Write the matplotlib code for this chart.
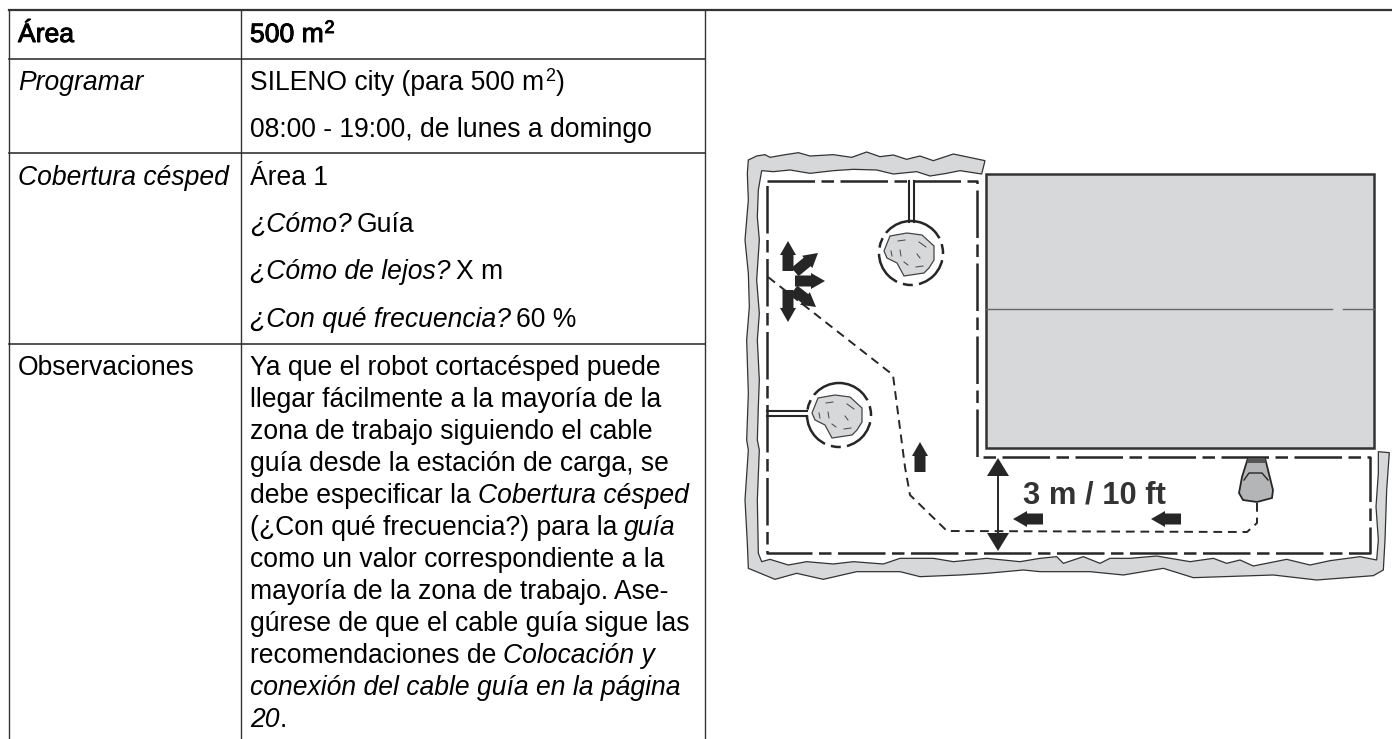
import matplotlib
matplotlib.use('Agg')
import matplotlib.pyplot as plt
from matplotlib.patches import Polygon, Circle, Rectangle
import matplotlib.patheffects as pe

plt.rcParams['font.family'] = ['Liberation Sans', 'DejaVu Sans']

# Lineas de la tabla (pixeles de la imagen)
col_x = [9, 241, 705]
row_y = [58.5, 153, 344]

# Filas de la tabla: (x, linea base, [(texto, estilo), ...])
table_rows = [
    (18, 42, [('Área', 'bold')]),
    (250, 42, [('500 m', 'bold'), ('2', 'boldsup')]),
    (18, 90, [('Programar', 'italic')]),
    (250, 90, [('SILENO city (para 500 m', 'normal'), ('2', 'sup'), (')', 'normal')]),
    (250, 137, [('08:00 - 19:00, de lunes a domingo', 'normal')]),
    (18, 185, [('Cobertura césped', 'italic')]),
    (250, 185, [('Área 1', 'normal')]),
    (250, 232, [('¿Cómo?', 'italic'), ('Guía', 'normal')]),
    (250, 279, [('¿Cómo de lejos?', 'italic'), ('X m', 'normal')]),
    (250, 327, [('¿Con qué frecuencia?', 'italic'), ('60 %', 'normal')]),
    (18, 375, [('Observaciones', 'normal')]),
    (250, 375, [('Ya que el robot cortacésped puede', 'normal')]),
    (250, 407, [('llegar fácilmente a la mayoría de la', 'normal')]),
    (250, 439, [('zona de trabajo siguiendo el cable', 'normal')]),
    (250, 471, [('guía desde la estación de carga, se', 'normal')]),
    (250, 503, [('debe especificar la', 'normal'), ('Cobertura césped', 'italic')]),
    (250, 535, [('(¿Con qué frecuencia?) para la', 'normal'), ('guía', 'italic')]),
    (250, 567, [('como un valor correspondiente a la', 'normal')]),
    (250, 599, [('mayoría de la zona de trabajo. Ase-', 'normal')]),
    (250, 631, [('gúrese de que el cable guía sigue las', 'normal')]),
    (250, 663, [('recomendaciones de', 'normal'), ('Colocación y', 'italic')]),
    (250, 695, [('conexión del cable guía en la página', 'italic')]),
    (250, 727, [('20', 'italic'), ('.', 'normal')]),
]

# Seto, en coordenadas de los recortes (zoom 1, 2 y 3)
hedge_top = [(85, 60), (110, 48), (135, 44), (150, 52), (190, 45), (235, 38), (270, 48), (340, 44),
             (395, 52), (440, 36), (480, 50), (520, 45), (560, 58), (600, 48), (640, 62), (700, 42),
             (795, 62), (785, 102), (720, 92), (680, 100), (630, 108), (590, 95), (520, 102), (470, 90),
             (400, 88), (340, 92), (270, 100), (210, 90), (160, 95), (125, 92), (115, 150), (112, 230),
             (118, 300), (110, 420), (118, 520), (112, 600), (118, 720), (115, 800), (112, 900)]
hedge_bottom_left = [(118, 150), (112, 300), (115, 460), (125, 485), (150, 478), (205, 495), (260, 485),
                     (340, 492), (400, 485), (490, 492), (540, 475), (640, 475), (700, 485), (800, 475),
                     (900, 485)]
hedge_right = [(0, 1255), (50, 1250), (70, 1270), (130, 1250), (180, 1270), (210, 1255), (270, 1255),
               (350, 1248), (450, 1265), (520, 1255), (560, 1270), (600, 1260), (640, 1278), (740, 1258),
               (810, 1275), (870, 1262), (960, 1250), (1010, 1260), (1015, 1200), (1008, 1100), (1015, 1000),
               (1015, 935), (1048, 938), (1040, 1050), (1035, 1200), (1030, 1290), (1000, 1307), (830, 1320),
               (700, 1305), (460, 1313), (370, 1285), (250, 1305), (150, 1295), (0, 1295)]
hedge_outer_bottom = [(910, 510), (800, 520), (720, 525), (600, 530), (540, 515), (410, 515),
                      (310, 538), (230, 520), (165, 538), (85, 505), (82, 430), (75, 300), (85, 150)]
hedge_outer_left = [(80, 900), (85, 760), (80, 600), (88, 500), (85, 400), (75, 300), (85, 180), (82, 100)]

# Cable delimitador y cable guia
boundary_wire = [(767, 181), (977, 181), (977, 457), (1370, 457), (1370, 553), (767, 553), (767, 181)]
guide_wire = [(1257, 503), (1257, 523), (1247, 532), (947, 531), (910, 495), (905, 467), (893, 375), (768, 277)]

# Flechas: cola y punta
arrows = [((788, 271), (788, 241)), ((795, 272), (818, 253)), ((795, 281), (825, 281)),
          ((794, 290), (816, 307)), ((788, 290), (788, 322)), ((920, 472), (920, 442)),
          ((1043, 519), (1013, 519)), ((1181, 519), (1151, 519))]

islands = [(911, 253), (839, 415)]
rock = [(-27, -2), (-21, -17), (-4, -20), (11, -18), (23, -7), (23, 7), (18, 15), (13, 20), (-7, 23),
        (-14, 10), (-24, 5)]
rock_marks = [[(-13, -12), (-6, -13)], [(8, -11), (15, -6)], [(-20, -2), (-19, 3)], [(-11, -3), (-10, 3)],
              [(6, 1), (9, 5)], [(-7, 9), (-3, 12)], [(5, 14), (12, 13)]]
station = [(1248, 458), (1265, 458), (1273, 490), (1272, 498), (1257, 502), (1243, 500), (1239, 493), (1242, 477)]


def z1(pts):
    return [(720 + x / 3, 140 + y / 3) for x, y in pts]


def z2(pts):
    return [(720 + x / 3, 400 + y / 3) for x, y in pts]


def z3(pts):
    return [(1040 + x / 3, 140 + y / 3) for x, y in pts]


fig = plt.figure(figsize=(13.92, 7.39), dpi=100)
ax = fig.add_axes([0, 0, 1, 1])
ax.set_xlim(0, 1392)
ax.set_ylim(739, 0)
ax.axis('off')

dark = '#262626'
gray = '#d7d8da'

# Tabla
ax.plot([9, 1392], [10, 10], color='#333333', lw=1.6)
for x in col_x:
    ax.plot([x, x], [10, 739], color='#333333', lw=1.0)
for y in row_y:
    ax.plot([col_x[0], col_x[2]], [y, y], color='#333333', lw=1.2)

fig.canvas.draw()
renderer = fig.canvas.get_renderer()
fs = 19.1
for x0, y0, runs in table_rows:
    x = x0
    for i, (txt, style) in enumerate(runs):
        if style in ('sup', 'boldsup'):
            t = ax.text(x + 1, y0 - 9, txt, fontsize=fs * 0.68, va='baseline', ha='left', color='black')
        else:
            t = ax.text(x, y0, txt, fontsize=fs, va='baseline', ha='left', color='black',
                        style='italic' if style == 'italic' else 'normal')
        if style in ('bold', 'boldsup'):
            t.set_path_effects([pe.withStroke(linewidth=0.7, foreground='black')])
        x += t.get_window_extent(renderer).width
        if i + 1 < len(runs):
            next_txt, next_style = runs[i + 1]
            if next_style == 'italic':
                x += 7
            elif style == 'italic' and next_txt != '.':
                x += 5
            elif style == 'sup':
                x += 2

# Seto
hedge = z1(hedge_top) + z2(hedge_bottom_left) + z3(hedge_right) + z2(hedge_outer_bottom) + z1(hedge_outer_left)
ax.add_patch(Polygon(hedge, closed=True, fc=gray, ec='#333333', lw=0.9, zorder=2))

# Edificio
ax.add_patch(Rectangle((986, 174), 388, 274, fc=gray, ec='#333333', lw=1.8, zorder=2))
ax.plot([986, 1332], [309, 309], color='#666666', lw=1.0, zorder=3)
ax.plot([1343, 1374], [309, 309], color='#666666', lw=1.0, zorder=3)

# Cables
wx, wy = zip(*boundary_wire)
ax.plot(wx, wy, color=dark, lw=1.8, ls=(0, (19, 2.6, 5, 2.6)), zorder=4, solid_joinstyle='miter')
gx, gy = zip(*guide_wire)
ax.plot(gx, gy, color=dark, lw=1.4, ls=(0, (4.5, 3)), zorder=4)

# Islas con su cable doble
for (cx, cy) in islands:
    ax.add_patch(Circle((cx, cy), 32, fc='white', ec=dark, lw=1.8, ls=(0, (14, 2.5, 4, 2.5)), zorder=4))
    ax.add_patch(Polygon([(cx + dx, cy + dy) for dx, dy in rock], closed=True, fc=gray, ec='#444444', lw=0.9, zorder=5))
    for mark in rock_marks:
        ax.plot([cx + p[0] for p in mark], [cy + p[1] for p in mark], color='#444444', lw=0.7, zorder=6)
ax.plot([908.5, 908.5], [181, 222], color=dark, lw=1.5, zorder=4)
ax.plot([913.5, 913.5], [181, 222], color=dark, lw=1.5, zorder=4)
ax.plot([767, 807], [411, 411], color=dark, lw=1.5, zorder=4)
ax.plot([767, 807], [416, 416], color=dark, lw=1.5, zorder=4)

# Flechas negras
for (x1, y1), (x2, y2) in arrows:
    ax.arrow(x1, y1, x2 - x1, y2 - y1, width=11, head_width=16, head_length=14,
             length_includes_head=True, fc=dark, ec=dark, lw=0, zorder=6)

# Cota de 3 m
ax.plot([998, 998], [470, 535], color=dark, lw=1.4, zorder=6)
ax.add_patch(Polygon([(998, 458), (987, 476), (1009, 476)], fc=dark, ec=dark, lw=0, zorder=6))
ax.add_patch(Polygon([(998, 551), (987, 533), (1009, 533)], fc=dark, ec=dark, lw=0, zorder=6))
ax.text(1023, 495, '3 m / 10 ft', fontsize=22.2, fontweight='bold', color='#333333', va='center', ha='left', zorder=6)

# Estacion de carga
ax.add_patch(Polygon(station, closed=True, fc='#b4b5b7', ec=dark, lw=1.3, zorder=6))
ax.plot([1244, 1249, 1262, 1268], [480, 473, 473, 480], color=dark, lw=1.0, zorder=7)
ax.add_patch(Polygon([(1248, 458), (1265, 458), (1266, 463), (1247, 463)], fc='#555555', ec='#555555', lw=0, zorder=7))

fig.savefig('out.png', dpi=100)
